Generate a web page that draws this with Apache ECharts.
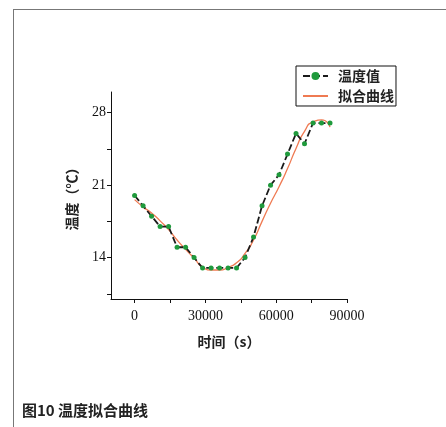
<!DOCTYPE html>
<html>
<head>
<meta charset="utf-8">
<script src="https://cdn.jsdelivr.net/npm/echarts@6/dist/echarts.min.js"></script>
<style>
  html, body { margin: 0; padding: 0; background: #fff; }
  #chart { width: 446px; height: 427px; }
</style>
</head>
<body>
<div id="chart"></div>
<script>
// Time of each reading, seconds (hourly)
const timeSec = [0, 3600, 7200, 10800, 14400, 18000, 21600, 25200, 28800, 32400, 36000, 39600,
  43200, 46800, 50400, 54000, 57600, 61200, 64800, 68400, 72000, 75600, 79200, 82800];
// Measured temperature, °C
const measuredTemp = [20, 19, 18, 17, 17, 15, 15, 14, 13, 13, 13, 13,
  13, 14, 16, 19, 21, 22, 24, 26, 25, 27, 27, 27];
// Fitted curve, sampled at the same times
const fittedTemp = [19.6, 18.9, 18.3, 17.55, 16.7, 15.7, 14.8, 13.95, 13.1, 12.8, 12.8, 13.05,
  13.5, 14.4, 15.7, 17.5, 19.25, 20.85, 22.6, 24.55, 26.2, 27.1, 27.3, 26.6];

const xLabels = [0, 30000, 60000, 90000];
const xTicks = [0, 15000, 30000, 45000, 60000, 75000, 90000];
const yLabels = [14, 21, 28];
const yTicks = [10.5, 14, 17.5, 21, 24.5, 28];

const seriesNames = ['温度值', '拟合曲线'];

const numFont = '"Liberation Serif", "DejaVu Serif", serif';
const cjkFont = '"Noto Sans CJK SC", sans-serif';

const chart = echarts.init(document.getElementById('chart'), null, { renderer: 'canvas' });

chart.setOption({
  animation: false,
  backgroundColor: '#ffffff',
  grid: { left: 111, right: 99, top: 92, bottom: 128, containLabel: false },
  legend: {
    orient: 'vertical',
    left: 296,
    top: 66,
    padding: [3, 2, 3, 6],
    itemGap: 6,
    itemWidth: 25,
    itemHeight: 10,
    itemStyle: { borderWidth: 0 },
    borderColor: '#111',
    borderWidth: 1,
    backgroundColor: '#fff',
    textStyle: { fontFamily: cjkFont, fontSize: 14, fontWeight: 'bold', color: '#222', padding: [0, 0, 0, 5] },
    data: [
      { name: seriesNames[0] },
      { name: seriesNames[1], itemStyle: { opacity: 0 } }
    ]
  },
  xAxis: {
    type: 'value',
    min: -10000,
    max: 90000,
    name: '时间（s）',
    nameLocation: 'middle',
    nameGap: 36,
    nameTextStyle: { fontFamily: cjkFont, fontSize: 14, fontWeight: 'bold', color: '#222' },
    axisLine: { show: true, onZero: false, lineStyle: { color: '#111', width: 1 } },
    axisTick: { show: true, length: 4, customValues: xTicks, lineStyle: { color: '#111' } },
    axisLabel: {
      customValues: xLabels, fontFamily: numFont, fontSize: 14, color: '#111', margin: 10,
      formatter: v => String(v)
    },
    splitLine: { show: false }
  },
  yAxis: {
    type: 'value',
    min: 10,
    max: 30,
    name: '温度（℃）',
    nameLocation: 'middle',
    nameRotate: 90,
    nameGap: 32,
    nameTextStyle: { fontFamily: cjkFont, fontSize: 14, fontWeight: 'bold', color: '#222' },
    axisLine: { show: true, onZero: false, lineStyle: { color: '#111', width: 1 } },
    axisTick: { show: true, length: 4, customValues: yTicks, lineStyle: { color: '#111' } },
    axisLabel: {
      customValues: yLabels, fontFamily: numFont, fontSize: 14, color: '#111', margin: 5,
      formatter: v => String(v)
    },
    splitLine: { show: false }
  },
  series: [
    {
      name: seriesNames[0],
      type: 'line',
      data: timeSec.map((t, i) => [t, measuredTemp[i]]),
      symbol: 'circle',
      symbolSize: 5,
      itemStyle: { color: '#1f9a3c' },
      lineStyle: { color: '#1a1a1a', width: 1.8, type: [7, 3] },
      z: 3
    },
    {
      name: seriesNames[1],
      type: 'line',
      data: timeSec.map((t, i) => [t, fittedTemp[i]]),
      smooth: 0.7,
      showSymbol: false,
      symbol: 'none',
      itemStyle: { color: '#ef7a52' },
      lineStyle: { color: '#ef7a52', width: 1.3 },
      z: 2
    }
  ],
  graphic: [
    // page frame
    { type: 'line', shape: { x1: 13, y1: 9.5, x2: 446, y2: 9.5 }, style: { stroke: '#777', lineWidth: 1 } },
    { type: 'line', shape: { x1: 13.5, y1: 9, x2: 13.5, y2: 427 }, style: { stroke: '#777', lineWidth: 1 } },
    // figure caption
    {
      type: 'text', left: 22, top: 403,
      style: { text: '图10 温度拟合曲线', fill: '#222', font: 'bold 15px "Noto Sans CJK SC", sans-serif' }
    }
  ]
});
</script>
</body>
</html>
